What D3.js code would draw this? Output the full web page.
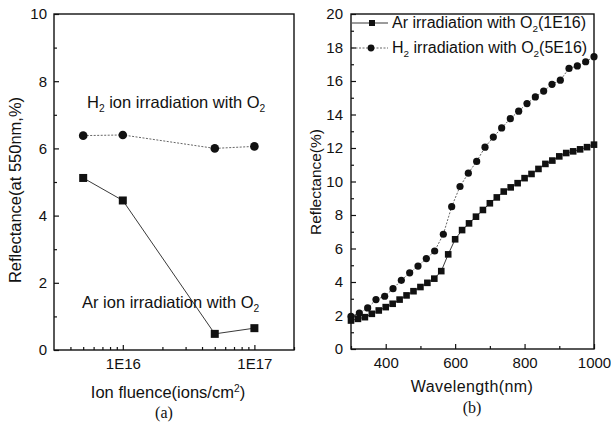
<!DOCTYPE html>
<html>
<head>
<meta charset="utf-8">
<script src="https://cdn.jsdelivr.net/npm/d3@7"></script>
<style>
  body { margin: 0; background: #fff; }
  text { font-family: "Liberation Sans", Arial, sans-serif; fill: #111; }
  .serif { font-family: "Liberation Serif", "Times New Roman", serif; }
</style>
</head>
<body>
<svg></svg>
<script>
// panel (a): reflectance at 550nm vs ion fluence
let fluence = [5e15, 1e16, 5e16, 1e17];
let arFluenceRefl = [5.12, 4.45, 0.48, 0.65];
let h2FluenceRefl = [6.38, 6.40, 6.00, 6.06];

// panel (b): reflectance spectra
let arWave = [300, 320, 340, 360, 380, 400, 420, 440, 460, 480, 500, 520, 540, 560, 580, 600, 620, 640,
              660, 680, 700, 720, 740, 760, 780, 800, 820, 840, 860, 880, 900, 920, 940, 960, 980, 1000];
let arRefl = [1.7, 1.8, 1.9, 2.1, 2.3, 2.5, 2.7, 2.95, 3.2, 3.45, 3.7, 3.95, 4.2, 4.65, 5.65, 6.55, 7.1, 7.5,
              7.9, 8.3, 8.7, 9.05, 9.4, 9.65, 9.9, 10.2, 10.45, 10.75, 11.05, 11.25, 11.5, 11.7, 11.8, 11.92, 12.05, 12.2];
let h2Wave = [300, 324, 348, 372, 397, 421, 445, 469, 493, 517, 541, 566, 590, 614, 638,
              662, 686, 710, 734, 759, 783, 807, 831, 855, 879, 903, 928, 952, 976, 1000];
let h2Refl = [1.95, 2.15, 2.45, 2.95, 3.15, 3.6, 4.1, 4.55, 4.95, 5.4, 5.85, 6.85, 8.5, 9.7, 10.5,
              11.2, 12.05, 12.65, 13.2, 13.75, 14.2, 14.65, 15.05, 15.4, 15.8, 16.05, 16.75, 16.9, 17.15, 17.45];

// ticks
let leftYTicks = [0, 2, 4, 6, 8, 10];
let leftYMinor = [1, 3, 5, 7, 9];
let fluenceTicks = [1e16, 1e17];
let fluenceLabels = ["1E16", "1E17"];
let fluenceMinor = [4e15, 5e15, 6e15, 7e15, 8e15, 9e15, 2e16, 3e16, 4e16, 5e16, 6e16, 7e16, 8e16, 9e16, 2e17];
let rightYTicks = [0, 2, 4, 6, 8, 10, 12, 14, 16, 18, 20];
let rightYMinor = [1, 3, 5, 7, 9, 11, 13, 15, 17, 19];
let waveTicks = [400, 600, 800, 1000];
let waveMinor = [300, 500, 700, 900];

let width = 611;
let height = 425;

let svg = d3.select("svg")
            .attr("width", width)
            .attr("height", height)

svg.append("rect").attr("width", width).attr("height", height).attr("fill", "#fff")

function styleAxis(g) {
    g.select(".domain").remove()
    g.selectAll("line").attr("stroke", "#111").attr("stroke-width", 1.2)
    g.selectAll("text").style("font-size", "15px").attr("fill", "#111")
}

// text with sub/superscripts: parts like {t}, {sub}, {sup}
function subText(x, y, parts, size, anchor) {
    let t = svg.append("text")
        .attr("x", x).attr("y", y)
        .style("font-size", size + "px")
        .attr("text-anchor", anchor || "start")
    let shift = 0;
    parts.forEach(p => {
        let target = p.sub ? 4 : p.sup ? -6 : 0;
        let s = t.append("tspan").attr("dy", target - shift)
        if (p.sub || p.sup) {
            s.style("font-size", (size * 0.62) + "px").text(p.sub || p.sup)
        } else {
            s.text(p.t)
        }
        shift = target;
    })
    return t
}

// ---------- panel (a) ----------
let xa = d3.scaleLog().domain([3e15, 2e17]).range([54, 294])
let ya = d3.scaleLinear().domain([0, 10]).range([350, 14])

svg.append("g")
    .attr("transform", "translate(54,0)")
    .call(d3.axisLeft(ya).tickValues(leftYTicks).tickSize(-5).tickPadding(7))
    .call(styleAxis)

svg.append("g")
    .attr("transform", "translate(54,0)")
    .call(d3.axisLeft(ya).tickValues(leftYMinor).tickSize(-3).tickFormat(""))
    .call(styleAxis)

svg.append("g")
    .attr("transform", "translate(0,350)")
    .call(d3.axisBottom(xa).tickValues(fluenceTicks).tickSize(-5).tickPadding(8)
            .tickFormat((d, i) => fluenceLabels[i]))
    .call(styleAxis)

svg.append("g")
    .attr("transform", "translate(0,350)")
    .call(d3.axisBottom(xa).tickValues(fluenceMinor).tickSize(-3).tickFormat(""))
    .call(styleAxis)

svg.append("rect")
    .attr("x", 54).attr("y", 14).attr("width", 240).attr("height", 336)
    .attr("fill", "none").attr("stroke", "#111").attr("stroke-width", 1.4)

let lineA = d3.line().x(d => xa(d[0])).y(d => ya(d[1]))

svg.append("path")
    .attr("d", lineA(d3.zip(fluence, h2FluenceRefl)))
    .attr("fill", "none").attr("stroke", "#555").attr("stroke-width", 0.9)
    .attr("stroke-dasharray", "2,1.5")

svg.append("path")
    .attr("d", lineA(d3.zip(fluence, arFluenceRefl)))
    .attr("fill", "none").attr("stroke", "#222").attr("stroke-width", 0.9)

svg.selectAll(".h2a")
    .data(d3.zip(fluence, h2FluenceRefl))
    .enter()
    .append("circle")
    .attr("cx", d => xa(d[0]))
    .attr("cy", d => ya(d[1]))
    .attr("r", 4.3)
    .attr("fill", "#111")

svg.selectAll(".ara")
    .data(d3.zip(fluence, arFluenceRefl))
    .enter()
    .append("rect")
    .attr("x", d => xa(d[0]) - 4)
    .attr("y", d => ya(d[1]) - 4)
    .attr("width", 8)
    .attr("height", 8)
    .attr("fill", "#111")

subText(87, 108, [{t: "H"}, {sub: "2"}, {t: " ion irradiation with O"}, {sub: "2"}], 16.5)
subText(82, 308, [{t: "Ar ion irradiation with O"}, {sub: "2"}], 16.5)

svg.append("text")
    .attr("transform", "translate(21,190) rotate(-90)")
    .attr("text-anchor", "middle")
    .style("font-size", "16.5px")
    .text("Reflectance(at 550nm,%)")

subText(168, 398, [{t: "Ion fluence(ions/cm"}, {sup: "2"}, {t: ")"}], 16.5, "middle")

svg.append("text")
    .attr("class", "serif")
    .attr("x", 164).attr("y", 418)
    .attr("text-anchor", "middle")
    .style("font-size", "16px")
    .text("(a)")

// ---------- panel (b) ----------
let xb = d3.scaleLinear().domain([300, 1000]).range([351, 594])
let yb = d3.scaleLinear().domain([0, 20]).range([349, 14])

svg.append("g")
    .attr("transform", "translate(351,0)")
    .call(d3.axisLeft(yb).tickValues(rightYTicks).tickSize(-5).tickPadding(8))
    .call(styleAxis)

svg.append("g")
    .attr("transform", "translate(351,0)")
    .call(d3.axisLeft(yb).tickValues(rightYMinor).tickSize(-3).tickFormat(""))
    .call(styleAxis)

svg.append("g")
    .attr("transform", "translate(0,349)")
    .call(d3.axisBottom(xb).tickValues(waveTicks).tickSize(-5).tickPadding(8)
            .tickFormat(d3.format("d")))
    .call(styleAxis)

svg.append("g")
    .attr("transform", "translate(0,349)")
    .call(d3.axisBottom(xb).tickValues(waveMinor).tickSize(-3).tickFormat(""))
    .call(styleAxis)

svg.append("rect")
    .attr("x", 351).attr("y", 14).attr("width", 243).attr("height", 335)
    .attr("fill", "none").attr("stroke", "#111").attr("stroke-width", 1.4)

let lineB = d3.line().x(d => xb(d[0])).y(d => yb(d[1]))

svg.append("path")
    .attr("d", lineB(d3.zip(h2Wave, h2Refl)))
    .attr("fill", "none").attr("stroke", "#555").attr("stroke-width", 0.9)
    .attr("stroke-dasharray", "2,1.5")

svg.append("path")
    .attr("d", lineB(d3.zip(arWave, arRefl)))
    .attr("fill", "none").attr("stroke", "#222").attr("stroke-width", 0.9)

svg.selectAll(".h2b")
    .data(d3.zip(h2Wave, h2Refl))
    .enter()
    .append("circle")
    .attr("cx", d => xb(d[0]))
    .attr("cy", d => yb(d[1]))
    .attr("r", 3.6)
    .attr("fill", "#111")

svg.selectAll(".arb")
    .data(d3.zip(arWave, arRefl))
    .enter()
    .append("rect")
    .attr("x", d => xb(d[0]) - 3.3)
    .attr("y", d => yb(d[1]) - 3.3)
    .attr("width", 6.6)
    .attr("height", 6.6)
    .attr("fill", "#111")

// legend
svg.append("line").attr("x1", 352).attr("x2", 388).attr("y1", 23).attr("y2", 23)
    .attr("stroke", "#222").attr("stroke-width", 0.9)
svg.append("rect").attr("x", 369).attr("y", 20).attr("width", 6).attr("height", 6).attr("fill", "#111")
svg.append("line").attr("x1", 352).attr("x2", 388).attr("y1", 48).attr("y2", 48)
    .attr("stroke", "#555").attr("stroke-width", 0.9).attr("stroke-dasharray", "2,1.5")
svg.append("circle").attr("cx", 371).attr("cy", 48).attr("r", 3.4).attr("fill", "#111")

subText(392, 28, [{t: "Ar irradiation with O"}, {sub: "2"}, {t: "(1E16)"}], 16)
subText(392, 53, [{t: "H"}, {sub: "2"}, {t: " irradiation with O"}, {sub: "2"}, {t: "(5E16)"}], 16)

svg.append("text")
    .attr("transform", "translate(321,182) rotate(-90)")
    .attr("text-anchor", "middle")
    .style("font-size", "15.5px")
    .text("Reflectance(%)")

svg.append("text")
    .attr("x", 472).attr("y", 392)
    .attr("text-anchor", "middle")
    .style("font-size", "16px")
    .style("letter-spacing", "0.4px")
    .text("Wavelength(nm)")

svg.append("text")
    .attr("class", "serif")
    .attr("x", 472).attr("y", 413)
    .attr("text-anchor", "middle")
    .style("font-size", "16px")
    .text("(b)")
</script>
</body>
</html>
